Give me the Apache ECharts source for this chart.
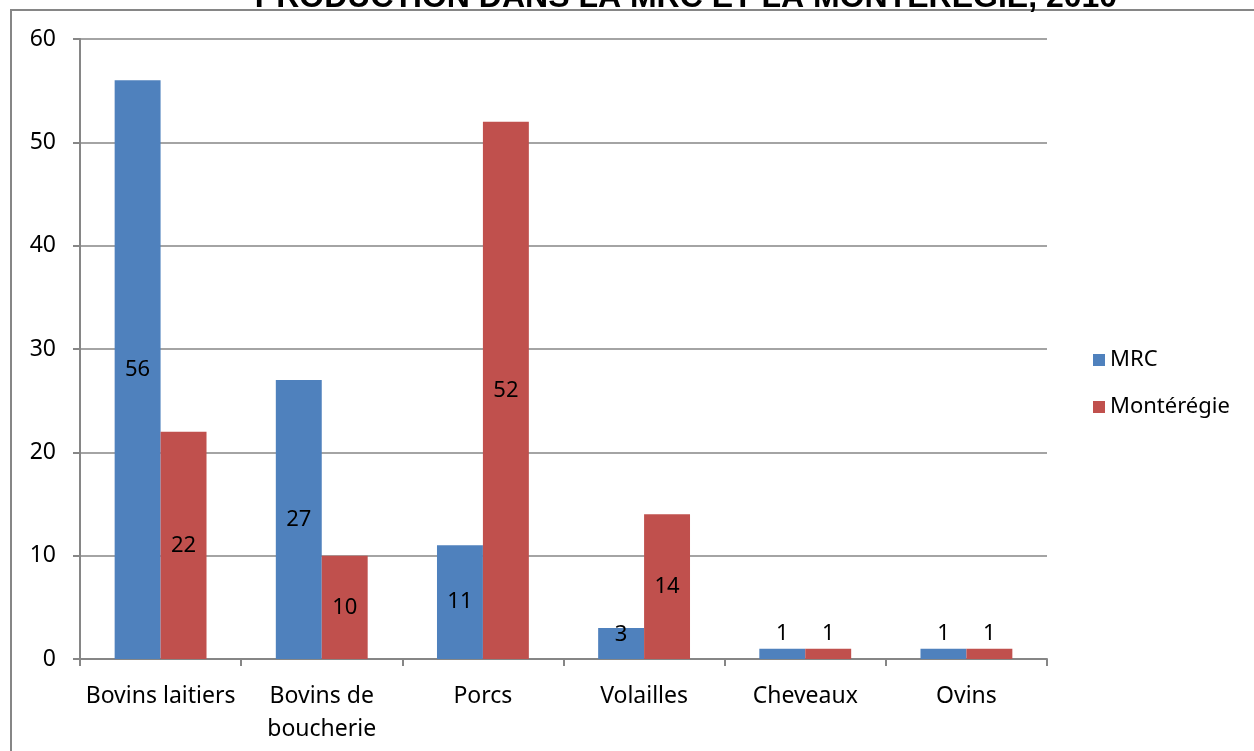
<!DOCTYPE html>
<html><head><meta charset="utf-8">
<script src="https://cdn.jsdelivr.net/npm/echarts@6/dist/echarts.min.js"></script>
<style>html,body{margin:0;padding:0;background:#fff}#c{width:1254px;height:751px}</style>
</head><body><div id="c"></div>
<script>
const categories = ["Bovins laitiers", "Bovins de\nboucherie", "Porcs", "Volailles", "Cheveaux", "Ovins"];
const mrcValues = [56, 27, 11, 3, 1, 1];
const monteregieValues = [22, 10, 52, 14, 1, 1];
const seriesNames = ["MRC", "Montérégie"];
const titleText = "PRODUCTION DANS LA MRC ET LA MONTÉRÉGIE, 2010";

const FONT = "'Noto Sans', 'Open Sans', sans-serif";
function dataWithLabels(vals) {
  return vals.map(v => {
    if (v <= 1) return { value: v, label: { position: 'top', distance: 4 } };
    if (v <= 3) return { value: v, label: { position: 'insideTop', distance: -4 } };
    return v;
  });
}
const chart = echarts.init(document.getElementById('c'), null, { renderer: 'canvas' });
chart.setOption({
  animation: false,
  backgroundColor: '#fff',
  title: {
    text: titleText, left: 681, top: -23, textAlign: 'center',
    textStyle: { fontFamily: "'Liberation Sans', sans-serif", fontSize: 32, fontWeight: 'bold', color: '#000' }
  },
  graphic: [{
    type: 'rect', shape: { x: 11, y: 10, width: 1300, height: 800 },
    style: { fill: 'none', stroke: '#868686', lineWidth: 2 }, silent: true, z: -1
  }],
  legend: {
    orient: 'vertical', left: 1088, top: 344, itemGap: 25,
    itemWidth: 12, itemHeight: 12, icon: 'rect',
    textStyle: { fontFamily: FONT, fontSize: 22, color: '#000' },
    data: seriesNames
  },
  grid: { left: 80, right: 207, top: 39, bottom: 92 },
  xAxis: {
    type: 'category', data: categories,
    axisLine: { lineStyle: { color: '#868686', width: 2 } },
    axisTick: { show: true, length: 7, lineStyle: { color: '#868686', width: 2 } },
    axisLabel: { fontFamily: FONT, fontSize: 23, color: '#000', margin: 21, lineHeight: 33, interval: 0 }
  },
  yAxis: {
    type: 'value', min: 0, max: 60, interval: 10,
    axisLine: { show: true, lineStyle: { color: '#868686', width: 2 } },
    axisTick: { show: true, length: 7, lineStyle: { color: '#868686', width: 2 } },
    splitLine: { lineStyle: { color: '#868686', width: 1.5 } },
    axisLabel: { fontFamily: FONT, fontSize: 23, color: '#000', margin: 24 }
  },
  series: [
    { name: seriesNames[0], type: 'bar', data: dataWithLabels(mrcValues), barGap: '0%', barCategoryGap: '43%',
      itemStyle: { color: '#4F81BD' },
      label: { show: true, position: 'inside', fontFamily: FONT, fontSize: 22, color: '#000' } },
    { name: seriesNames[1], type: 'bar', data: dataWithLabels(monteregieValues), barGap: '0%', barCategoryGap: '43%',
      itemStyle: { color: '#C0504D' },
      label: { show: true, position: 'inside', fontFamily: FONT, fontSize: 22, color: '#000' } }
  ]
});
</script></body></html>
